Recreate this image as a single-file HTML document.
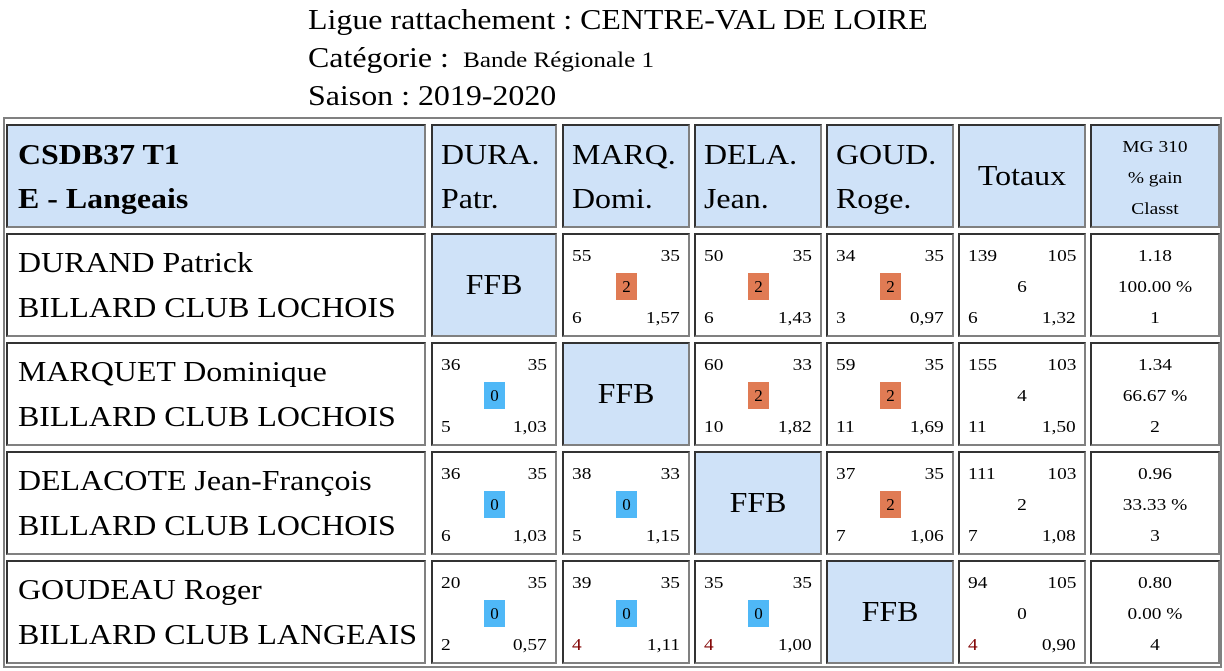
<!DOCTYPE html>
<html><head><meta charset="utf-8">
<style>
body{margin:0;width:1224px;height:671px;background:#fff;font-family:"Liberation Serif",serif;color:#000;position:relative;overflow:hidden}
.t{position:absolute;left:308px;top:0;font-size:28px;line-height:32px;white-space:nowrap;transform:scaleX(1.14);transform-origin:left center}
#tbl{position:absolute;left:3px;top:117px;width:1219px;height:551px;border:2px solid #808080;box-sizing:border-box}
.c{position:absolute;box-sizing:border-box;border:2px solid;border-color:#333 #808080 #808080 #333;background:#fff}
.b{background:#cfe2f8}
.a{position:absolute;white-space:nowrap}
.s{font-size:17px;line-height:18px;transform:scaleX(1.14)}
.L{font-size:28px;line-height:32px;transform:scaleX(1.14)}
.bd{position:absolute;width:21px;height:27px;font-size:17px;line-height:27px;text-align:center}
</style></head><body>
<div class="t" style="top:5px">Ligue rattachement : CENTRE-VAL DE LOIRE</div>
<div class="t" style="top:43px">Catégorie : <span style="font-size:22px">&nbsp;Bande Régionale 1</span></div>
<div class="t" style="top:81px">Saison : 2019-2020</div>
<div id="tbl"></div>
<script>
const colX=[6,431,562,694,826,958,1090];
const colW=[420,126,128,128,128,128,130];
const rowY=[124,233,342,451,560];
const rowH=104;
const heads=[["DURA.","Patr."],["MARQ.","Domi."],["DELA.","Jean."],["GOUD.","Roge."]];
const players=[["DURAND Patrick","BILLARD CLUB LOCHOIS"],["MARQUET Dominique","BILLARD CLUB LOCHOIS"],["DELACOTE Jean-François","BILLARD CLUB LOCHOIS"],["GOUDEAU Roger","BILLARD CLUB LANGEAIS"]];
const matches=[
[null,[55,35,2,6,"1,57"],[50,35,2,6,"1,43"],[34,35,2,3,"0,97"]],
[[36,35,0,5,"1,03"],null,[60,33,2,10,"1,82"],[59,35,2,11,"1,69"]],
[[36,35,0,6,"1,03"],[38,33,0,5,"1,15"],null,[37,35,2,7,"1,06"]],
[[20,35,0,2,"0,57"],[39,35,0,4,"1,11"],[35,35,0,4,"1,00"],null]];
const totals=[[139,105,6,6,"1,32"],[155,103,4,11,"1,50"],[111,103,2,7,"1,08"],[94,105,0,4,"0,90"]];
const summary=[["1.18","100.00 %","1"],["1.34","66.67 %","2"],["0.96","33.33 %","3"],["0.80","0.00 %","4"]];
const redInnings=[[false,false,false,false],[false,false,false,false],[false,false,false,false],[false,true,true,false]];
const totalRed=[false,false,false,true];

function cell(c,r,blue,name){
  const d=document.createElement('div');
  d.className='c'+(blue?' b':'');
  d.style.left=colX[c]+'px';d.style.top=rowY[r]+'px';d.style.width=colW[c]+'px';d.style.height=rowH+'px';
  
  
  document.body.appendChild(d);return d;
}
function txt(p,cls,text,css,name){
  const s=document.createElement('div');
  s.className='a '+cls;s.textContent=text;s.style.cssText=css;
  if(css.indexOf('right:0')>=0) s.style.transformOrigin='center';
  else if(css.indexOf('right:')>=0) s.style.transformOrigin='right center';
  else s.style.transformOrigin='left center';
  
  
  p.appendChild(s);return s;
}
function scoreCell(p,v,w,badge,red,name){
  txt(p,'s',String(v[0]),'left:8px;top:12px',name+'-points');
  txt(p,'s',String(v[1]),'right:8px;top:12px',name+'-target');
  txt(p,'s',String(v[3]),'left:8px;top:74px'+(red?';color:#800000':''),name+'-innings');
  txt(p,'s',v[4],'right:8px;top:74px',name+'-average');
  if(badge){
    txt(p,'bd',String(v[2]),'top:38px;left:'+Math.round((w-4)/2-10.5)+'px;background:'+(v[2]==2?'#e07b54':'#4fb8f7'),name+'-match-points');
  } else {
    txt(p,'s',String(v[2]),'left:0;right:0;text-align:center;top:43px',name+'-match-points');
  }
}
let h=cell(0,0,true,'team-header');
txt(h,'L','CSDB37 T1','left:10px;top:14px;font-weight:bold','team-code');
txt(h,'L','E - Langeais','left:10px;top:58px;font-weight:bold','team-name');
for(let i=0;i<4;i++){
  const hc=cell(i+1,0,true,'opponent-header-'+(i+1));
  txt(hc,'L',heads[i][0],'left:8px;top:14px','opponent-surname');
  txt(hc,'L',heads[i][1],'left:8px;top:58px','opponent-firstname');
}
h=cell(5,0,true,'totals-header');
txt(h,'L','Totaux','left:0;right:0;text-align:center;top:35px','totals-label');
h=cell(6,0,true,'summary-header');
['MG 310','% gain','Classt'].forEach((t,k)=>txt(h,'s',t,'left:0;right:0;text-align:center;top:'+(12+k*31)+'px','summary-label'));
for(let r=0;r<4;r++){
  const pc=cell(0,r+1,false,'player-cell-'+(r+1));
  txt(pc,'L',players[r][0],'left:10px;top:13px','player-name');
  txt(pc,'L',players[r][1],'left:10px;top:58px','player-club');
  for(let c=0;c<4;c++){
    const m=matches[r][c];
    const mc=cell(c+1,r+1,m===null,'match-cell-'+(r+1)+'-'+(c+1));
    if(m===null){txt(mc,'L','FFB','left:0;right:0;text-align:center;top:35px','ffb-label');}
    else scoreCell(mc,m,colW[c+1],true,redInnings[r][c],'match');
  }
  const tc=cell(5,r+1,false,'totals-cell-'+(r+1));
  scoreCell(tc,totals[r],colW[5],false,totalRed[r],'totals');
  const sc=cell(6,r+1,false,'summary-cell-'+(r+1));
  summary[r].forEach((t,k)=>txt(sc,'s',t,'left:0;right:0;text-align:center;top:'+(12+k*31)+'px','summary-value'));
}
</script>
</body></html>
